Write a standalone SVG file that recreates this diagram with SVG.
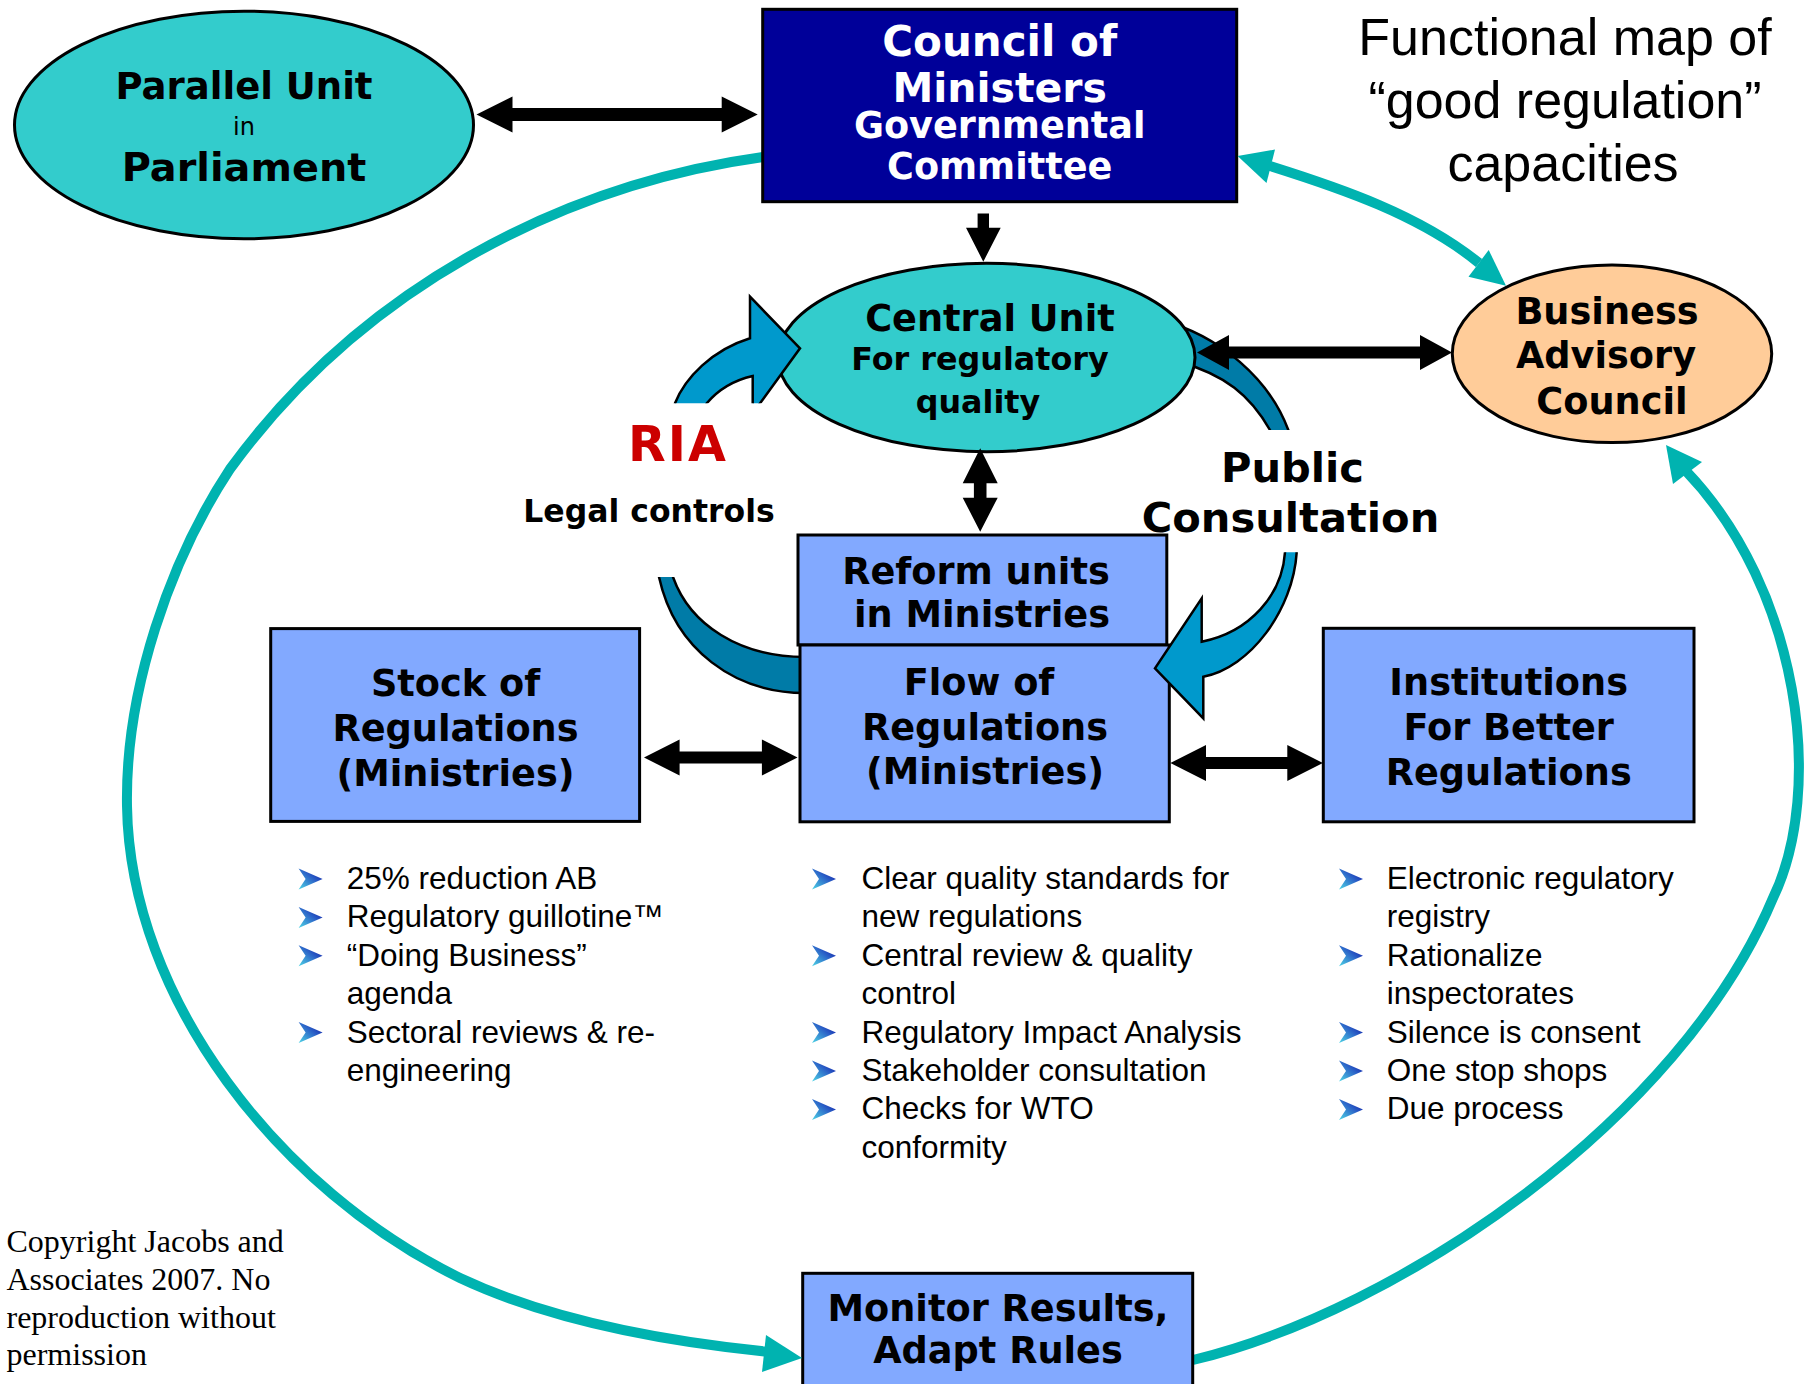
<svg xmlns="http://www.w3.org/2000/svg" width="1805" height="1384" viewBox="0 0 1805 1384">
<style>
.lbl{font-family:"DejaVu Sans",Verdana,sans-serif;font-weight:bold;text-anchor:middle;fill:#000;font-size:36.7px}
.wht{fill:#fff}
.bul{font-family:"Liberation Sans",Arial,sans-serif;font-size:31.5px;fill:#000}
.cr{font-family:"Liberation Serif","Times New Roman",serif;font-size:32px;fill:#000}
.ttl{font-family:"Liberation Sans",Arial,sans-serif;font-size:52px;fill:#000;text-anchor:middle}
.box{fill:#82A9FF;stroke:#000;stroke-width:3}
.teal{fill:#33CCCC;stroke:#000;stroke-width:3}
.tarc{fill:none;stroke:#00B3B0;stroke-width:10}
.thead{fill:#00B3B0}
.blk{fill:#000}
.dark{fill:#007BA7;stroke:#000;stroke-width:2.5}
.light{fill:#0099CC;stroke:#000;stroke-width:2.5}
</style>
<defs>
<linearGradient id="bg" x1="0" y1="1" x2="1" y2="0">
<stop offset="0" stop-color="#4FD6E6"/>
<stop offset="0.55" stop-color="#2B63C8"/>
<stop offset="1" stop-color="#0A0AA0"/>
</linearGradient>
<polygon id="bullet" points="0,0 24,10.5 0,21 7,10.5" fill="url(#bg)"/>
<clipPath id="cRIAtop"><rect x="0" y="0" width="1805" height="403.3"/></clipPath>
<clipPath id="cRIAbot"><rect x="0" y="577" width="1805" height="807"/></clipPath>
<clipPath id="cPCtop"><rect x="0" y="0" width="1805" height="430"/></clipPath>
<clipPath id="cPCbot"><rect x="0" y="552.3" width="1805" height="832"/></clipPath>
</defs>
<rect width="1805" height="1384" fill="#fff"/>

<g id="connectors-under">
<path class="tarc" d="M 763,157 C 560,185 360,290 230,469 C 170,560 125,690 127,806 C 130,1000 280,1190 460,1278 C 560,1325 680,1343 770,1352"/>
<path class="tarc" d="M 1193,1360 C 1400,1310 1680,1120 1773,898 C 1825,790 1800,590 1686,471"/>
<path class="dark" clip-path="url(#cRIAbot)" d="M 655,560 L 659,577 C 675,650 735,693 805,693 L 805,657 C 740,657 690,625 673,577 L 670,560 Z"/>
<path class="dark" clip-path="url(#cPCtop)" d="M 1160,320 C 1220,335 1270,380 1288.3,430 L 1295,450 L 1275,450 L 1270,430 C 1250,395 1225,375 1180,362 Z"/>
</g>

<g id="parallel-unit">
<ellipse class="teal" cx="244" cy="125" rx="229.5" ry="113.8"/>
<text class="lbl" x="244" y="99" style="font-size:37px">Parallel Unit</text>
<text x="244" y="135" font-family="DejaVu Sans,sans-serif" font-size="24" text-anchor="middle">in</text>
<text class="lbl" x="244" y="181" style="font-size:39.8px">Parliament</text>
</g>

<g id="council">
<rect x="762.7" y="9.3" width="474" height="192.4" fill="#000099" stroke="#000" stroke-width="3"/>
<text class="lbl wht" x="999.7" y="56" style="font-size:42px">Council of</text>
<text class="lbl wht" x="999.7" y="101.7" style="font-size:41px">Ministers</text>
<text class="lbl wht" x="999.7" y="138.3" style="font-size:36.6px">Governmental</text>
<text class="lbl wht" x="999.7" y="179" style="font-size:36.6px">Committee</text>
</g>

<g id="central-unit">
<ellipse class="teal" cx="986.5" cy="357.5" rx="208.5" ry="94.2"/>
<text class="lbl" x="990" y="331">Central Unit</text>
<text class="lbl" x="980" y="370" style="font-size:31.8px">For regulatory</text>
<text class="lbl" x="978" y="413.3" style="font-size:31.8px">quality</text>
</g>

<g id="business-advisory">
<ellipse cx="1612" cy="353.8" rx="159.7" ry="88.8" fill="#FFCC99" stroke="#000" stroke-width="3"/>
<text class="lbl" x="1607" y="324">Business</text>
<text class="lbl" x="1606" y="368.3">Advisory</text>
<text class="lbl" x="1612" y="414">Council</text>
</g>

<g id="reform-units">
<rect class="box" x="798" y="535" width="368.8" height="110"/>
<text class="lbl" x="976" y="583.6">Reform units</text>
<text class="lbl" x="982" y="627">in Ministries</text>
</g>

<g id="flow">
<rect class="box" x="800" y="645" width="369.3" height="176.8"/>
<text class="lbl" x="979" y="695">Flow of</text>
<text class="lbl" x="985" y="739.6">Regulations</text>
<text class="lbl" x="985" y="784.3">(Ministries)</text>
</g>

<g id="stock">
<rect class="box" x="270.7" y="628.6" width="368.9" height="192.8"/>
<text class="lbl" x="455.5" y="695.7">Stock of</text>
<text class="lbl" x="455.5" y="741">Regulations</text>
<text class="lbl" x="455.5" y="785.7">(Ministries)</text>
</g>

<g id="institutions">
<rect class="box" x="1323.3" y="628.3" width="370.7" height="193.5"/>
<text class="lbl" x="1508.7" y="695">Institutions</text>
<text class="lbl" x="1508.7" y="740">For Better</text>
<text class="lbl" x="1508.7" y="785">Regulations</text>
</g>

<g id="monitor">
<rect class="box" x="802.7" y="1273.3" width="390" height="130"/>
<text class="lbl" x="998" y="1320.7">Monitor Results,</text>
<text class="lbl" x="998" y="1363.3">Adapt Rules</text>
</g>

<g id="connectors">
<path class="light" clip-path="url(#cRIAtop)" d="M 668,430 L 675,403.3 C 685,378 712,350 750,338.3 L 750,296.7 L 800,348.3 L 745,424 L 752.7,424 L 752.7,376 C 735,380 718,390 706.7,403.3 L 700,430 Z"/>
<path class="light" clip-path="url(#cPCbot)" d="M 1285,540 L 1285,552.3 C 1282,595 1250,632 1201.7,641.7 L 1201.7,598.3 L 1155,668.3 L 1203.3,718.3 L 1203.3,676.7 C 1250,668 1293,610 1296.7,552.3 L 1297,540 Z"/>
<polygon class="blk" points="476.5,114.5 512.5,96.5 512.5,108 721.7,108 721.7,96.5 757.7,114.5 721.7,132.5 721.7,121 512.5,121 512.5,132.5"/>
<polygon class="blk" points="1197,352.5 1229,335 1229,346.5 1420,346.5 1420,335 1452,352.5 1420,370 1420,358.5 1229,358.5 1229,370"/>
<polygon class="blk" points="644,757.5 679.6,739.5 679.6,751.5 761.9,751.5 761.9,739.5 797.5,757.5 761.9,775.5 761.9,763.5 679.6,763.5 679.6,775.5"/>
<polygon class="blk" points="1170.4,763 1206,745 1206,757 1287.3,757 1287.3,745 1322.9,763 1287.3,781 1287.3,769 1206,769 1206,781"/>
<polygon class="blk" points="977.6,213.5 989,213.5 989,227.7 1000.7,227.7 983.3,261.7 966,227.7 977.6,227.7"/>
<polygon class="blk" points="980.2,448.3 997.7,483.3 986.5,483.3 986.5,497.7 997.7,497.7 980.2,531.7 962.7,497.7 973.9,497.7 973.9,483.3 962.7,483.3"/>
<polygon class="thead" points="802,1358 766,1335 762,1372"/>
<polygon class="thead" points="1666,445 1702,462 1673,484"/>
<path class="tarc" d="M 1270,166 C 1340,188 1420,215 1479,263"/>
<polygon class="thead" points="1237.6,156 1275,149.6 1266.5,183"/>
<polygon class="thead" points="1506,285.7 1468.5,276.8 1488.7,250"/>
</g>

<g id="labels">
<text class="lbl" x="678" y="460.7" style="font-size:49px;letter-spacing:2px;fill:#CC0000">RIA</text>
<text class="lbl" x="649" y="521.7" style="font-size:31.5px">Legal controls</text>
<text class="lbl" x="1292.5" y="481.7" style="font-size:41.6px">Public</text>
<text class="lbl" x="1290.5" y="531.7" style="font-size:41.6px">Consultation</text>
<text class="ttl" x="1565" y="54.5">Functional map of</text>
<text class="ttl" x="1565" y="118.3">“good regulation”</text>
<text class="ttl" x="1563" y="180.8">capacities</text>
</g>

<g id="list-stock">
<use href="#bullet" x="298.6" y="868.5"/>
<use href="#bullet" x="298.6" y="906.9"/>
<use href="#bullet" x="298.6" y="945.3"/>
<use href="#bullet" x="298.6" y="1022.1"/>
<text class="bul" x="346.8" y="889">25% reduction AB</text>
<text class="bul" x="346.8" y="927.4">Regulatory guillotine™</text>
<text class="bul" x="346.8" y="965.8">“Doing Business”</text>
<text class="bul" x="346.8" y="1004.2">agenda</text>
<text class="bul" x="346.8" y="1042.6">Sectoral reviews &amp; re-</text>
<text class="bul" x="346.8" y="1081">engineering</text>
</g>

<g id="list-flow">
<use href="#bullet" x="812" y="868.5"/>
<use href="#bullet" x="812" y="945.3"/>
<use href="#bullet" x="812" y="1022.1"/>
<use href="#bullet" x="812" y="1060.5"/>
<use href="#bullet" x="812" y="1098.9"/>
<text class="bul" x="861.5" y="889">Clear quality standards for</text>
<text class="bul" x="861.5" y="927.4">new regulations</text>
<text class="bul" x="861.5" y="965.8">Central review &amp; quality</text>
<text class="bul" x="861.5" y="1004.2">control</text>
<text class="bul" x="861.5" y="1042.6">Regulatory Impact Analysis</text>
<text class="bul" x="861.5" y="1081">Stakeholder consultation</text>
<text class="bul" x="861.5" y="1119.4">Checks for WTO</text>
<text class="bul" x="861.5" y="1157.8">conformity</text>
</g>

<g id="list-institutions">
<use href="#bullet" x="1339" y="868.5"/>
<use href="#bullet" x="1339" y="945.3"/>
<use href="#bullet" x="1339" y="1022.1"/>
<use href="#bullet" x="1339" y="1060.5"/>
<use href="#bullet" x="1339" y="1098.9"/>
<text class="bul" x="1386.7" y="889">Electronic regulatory</text>
<text class="bul" x="1386.7" y="927.4">registry</text>
<text class="bul" x="1386.7" y="965.8">Rationalize</text>
<text class="bul" x="1386.7" y="1004.2">inspectorates</text>
<text class="bul" x="1386.7" y="1042.6">Silence is consent</text>
<text class="bul" x="1386.7" y="1081">One stop shops</text>
<text class="bul" x="1386.7" y="1119.4">Due process</text>
</g>

<g id="copyright">
<text class="cr" x="6.5" y="1251.7">Copyright Jacobs and</text>
<text class="cr" x="6.5" y="1290">Associates 2007. No</text>
<text class="cr" x="6.5" y="1328.3">reproduction without</text>
<text class="cr" x="6.5" y="1365">permission</text>
</g>
</svg>
